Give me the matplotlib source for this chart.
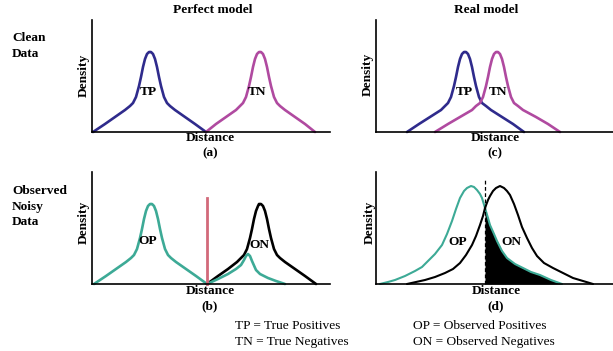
import matplotlib
matplotlib.use("Agg")
import matplotlib.pyplot as plt

W, H = 613, 351

# ---- data (x = distance units, y = density units) ----
# panel (a) perfect model, clean data
a_tp_x = [1, 13, 23, 33, 38, 41, 44, 47, 49, 51, 53, 55, 57, 58, 59, 61, 63, 65, 67, 69, 72, 75, 78, 83, 93, 103, 114]
a_tp_y = [0, 8, 15, 22, 26, 29, 35, 46, 55, 65, 73, 78, 80, 80, 80, 78, 73, 65, 55, 46, 35, 29, 26, 22, 15, 8, 0]
a_tn_x = [114, 124, 134, 144, 148, 151, 154, 157, 159, 161, 163, 165, 167, 168, 169, 171, 173, 175, 177, 179, 182, 185, 188, 193, 203, 213, 223]
a_tn_y = [0, 8, 15, 22, 26, 29, 35, 46, 55, 65, 73, 78, 80, 80, 80, 78, 73, 65, 55, 46, 35, 29, 26, 22, 15, 8, 0]

# panel (c) real model, clean data
c_tp_x = [31, 43, 54, 65, 69, 72, 75, 78, 80, 82, 84, 86, 88, 89, 90, 92, 94, 96, 98, 100, 103, 106, 110, 115, 126, 137, 148]
c_tp_y = [0, 8, 15, 22, 26, 29, 35, 46, 55, 65, 73, 78, 80, 80, 80, 78, 73, 65, 55, 46, 35, 29, 26, 22, 15, 8, 0]
c_tn_x = [59, 72, 84, 96, 100, 104, 107, 110, 112, 114, 116, 118, 120, 121, 122, 124, 126, 128, 130, 132, 135, 138, 142, 147, 160, 172, 184]
c_tn_y = [0, 8, 15, 22, 26, 29, 35, 46, 55, 65, 73, 78, 80, 80, 80, 78, 73, 65, 55, 46, 35, 29, 26, 22, 15, 8, 0]

# panel (b) perfect model, observed noisy data
b_op_x = [2, 14, 24, 34, 39, 42, 45, 48, 50, 52, 54, 56, 58, 59, 60, 62, 64, 66, 68, 70, 73, 76, 79, 84, 94, 104, 115]
b_op_y = [0, 8, 15, 22, 26, 29, 35, 46, 55, 65, 73, 78, 80, 80, 80, 78, 73, 65, 55, 46, 35, 29, 26, 22, 15, 8, 0]
b_on_x = [115, 126, 136, 145, 149, 152, 155, 158, 160, 162, 164, 166, 167, 168, 169, 171, 173, 175, 177, 179, 182, 185, 188, 193, 203, 213, 224]
b_on_y = [0, 8, 15, 22, 26, 29, 35, 46, 55, 65, 73, 78, 80, 80, 80, 78, 73, 65, 55, 46, 35, 29, 26, 22, 15, 8, 0]
b_op2_x = [115, 126, 136, 144, 149, 152, 154, 156, 158, 160, 164, 168, 176, 184, 193]
b_op2_y = [0, 5, 10, 15, 19, 24, 28, 30, 28, 23, 14, 10, 6, 3, 0]
b_threshold_x = 115
b_threshold_top = 86

# panel (d) real model, observed noisy data
d_op_x = [4, 12, 19, 29, 39, 46, 52, 59, 66, 71, 76, 80, 84, 88, 91, 95, 98, 101, 104, 106, 109,
          112, 114, 118, 121, 126, 131, 139, 147, 155, 164, 175, 186]
d_op_y = [0, 2, 4, 8, 13, 17, 23, 30, 39, 50, 63, 75, 86, 93, 96, 98, 97, 94, 90, 86, 76,
          66, 59, 50, 43, 33, 26, 20, 16, 12, 9, 4, 0]
d_on_x = [31, 40, 49, 59, 69, 77, 84, 90, 96, 100, 104, 107, 109, 112, 114, 117, 120, 124, 128, 131,
          134, 138, 142, 146, 151, 156, 161, 168, 177, 187, 197, 207, 217]
d_on_y = [0, 2, 4, 7, 11, 15, 21, 29, 39, 48, 59, 68, 76, 84, 88, 93, 96, 98, 96, 93,
          89, 80, 69, 57, 46, 36, 28, 21, 16, 11, 6, 3, 0]
d_threshold_x = 109
d_threshold_top = 104

# ---- styling ----
C_TP = "#2f2b8c"
C_TN = "#b04aa0"
C_OP = "#3daa96"
C_RED = "#d2697a"
SERIF = "Liberation Serif"
FS = 9.6

fig = plt.figure(figsize=(W / 100, H / 100), dpi=100)
fig.patch.set_facecolor("white")


def make_ax(x0, x1, ytop, ybot, xmax):
    ax = fig.add_axes([x0 / W, 1 - ybot / H, (x1 - x0) / W, (ybot - ytop) / H])
    ax.set_xlim(0, xmax)
    ax.set_ylim(0, 112)
    for s in ("top", "right"):
        ax.spines[s].set_visible(False)
    for s in ("left", "bottom"):
        ax.spines[s].set_linewidth(1.2)
        ax.spines[s].set_color("black")
    ax.set_xticks([])
    ax.set_yticks([])
    ax.patch.set_alpha(0)
    return ax


ax_a = make_ax(92, 330, 20, 132, 238)
ax_c = make_ax(376, 613, 20, 132, 237)
ax_b = make_ax(92, 330, 172, 284, 238)
ax_d = make_ax(376, 613, 172, 284, 237)

lw = 1.9
style = dict(lw=lw, solid_joinstyle="round", solid_capstyle="round", clip_on=False)
ax_a.plot(a_tp_x, a_tp_y, color=C_TP, **style)
ax_a.plot(a_tn_x, a_tn_y, color=C_TN, **style)
ax_c.plot(c_tp_x, c_tp_y, color=C_TP, **style)
ax_c.plot(c_tn_x, c_tn_y, color=C_TN, **style)

ax_b.plot(b_op_x, b_op_y, color=C_OP, **style)
ax_b.plot(b_on_x, b_on_y, color="black", **style)
ax_b.plot(b_op2_x, b_op2_y, color=C_OP, **style)
ax_b.plot([b_threshold_x, b_threshold_x], [0, b_threshold_top], color=C_RED, lw=2.0, clip_on=False)

fill_x = [x for x in d_op_x if x >= d_threshold_x]
fill_y = [y for x, y in zip(d_op_x, d_op_y) if x >= d_threshold_x]
ax_d.fill_between(fill_x, 0, fill_y, color="black", lw=0)
thin = dict(lw=1.5, solid_joinstyle="round", solid_capstyle="round", clip_on=False)
ax_d.plot(d_op_x, d_op_y, color=C_OP, **thin)
ax_d.plot(d_on_x, d_on_y, color="black", **thin)
ax_d.plot([d_threshold_x, d_threshold_x], [0, d_threshold_top], color="black", lw=0.9,
          linestyle=(0, (3, 2)), clip_on=False)

lab = dict(fontfamily=SERIF, fontweight="bold", fontsize=FS, ha="center", va="center")
ax_a.text(56, 40, "TP", **lab)
ax_a.text(165, 40, "TN", **lab)
ax_c.text(88, 40, "TP", **lab)
ax_c.text(122, 40, "TN", **lab)
ax_b.text(56, 43, "OP", **lab)
ax_b.text(167, 39, "ON", **lab)
ax_d.text(82, 42, "OP", **lab)
ax_d.text(135, 42, "ON", **lab)


def ftext(x, y, s, **kw):
    fig.text(x / W, 1 - y / H, s, **kw)


bold = dict(fontfamily=SERIF, fontweight="bold", fontsize=FS, va="center")
ftext(213, 10, "Perfect model", ha="center", **bold)
ftext(486, 10, "Real model", ha="center", **bold)
ftext(12, 38, "Clean", ha="left", **bold)
ftext(12, 54, "Data", ha="left", **bold)
ftext(12, 191, "Observed", ha="left", **bold)
ftext(12, 207, "Noisy", ha="left", **bold)
ftext(12, 222, "Data", ha="left", **bold)

for (x, y) in [(84, 75), (84, 222), (368, 74), (370, 222)]:
    ftext(x, y, "Density", ha="center", rotation=90, **bold)
for (x, y, p) in [(210, 138, "(a)"), (210, 291, "(b)"), (495, 138, "(c)"), (496, 291, "(d)")]:
    ftext(x, y, "Distance", ha="center", **bold)
    ftext(x, y + 15, p, ha="center", **bold)

reg = dict(fontfamily=SERIF, fontsize=FS, va="center", ha="left")
ftext(235, 326, "TP = True Positives", **reg)
ftext(235, 342, "TN = True Negatives", **reg)
ftext(413, 326, "OP = Observed Positives", **reg)
ftext(413, 342, "ON = Observed Negatives", **reg)

fig.savefig("out.png", dpi=100, facecolor="white")
